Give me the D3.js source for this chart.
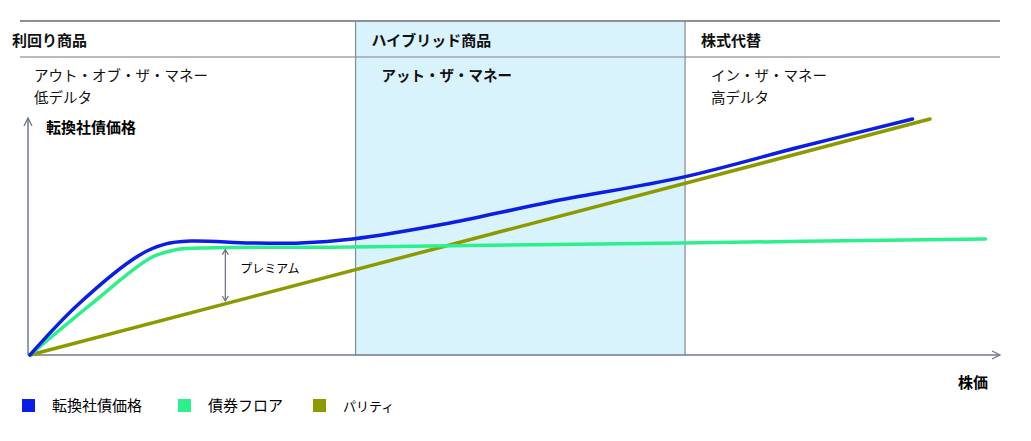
<!DOCTYPE html>
<html lang="ja">
<head>
<meta charset="UTF-8">
<title>転換社債</title>
<script src="https://d3js.org/d3.v7.min.js"></script>
<style>
  body { margin: 0; background: #fff; font-family: "Noto Sans CJK JP", sans-serif; }
  text { font-family: "Noto Sans CJK JP", sans-serif; }
</style>
</head>
<body>
<div id="chart"></div>
<script>
// data (stock price, value) in abstract 0-100 units
const cbPrice = [[0.2,0],[5.1,21.3],[11.5,42.6],[14.1,47.2],[16.7,48.5],[22.9,47.7],[28,47.7],[33.4,49.4],[43.4,56.2],[53.7,65.1],[67.4,75.7],[79.4,88.5],[91.0,100.4]];
const bondFloor = [[0.2,0],[6.4,21.3],[12.6,41.3],[15.1,44.7],[17.7,45.5],[33.4,46],[67.4,47.7],[98.5,49.4]];
const parity = [[0.2,0],[92.8,100.4]];
const zones = [
  {from: 0, to: 33.7, title: "利回り商品", sub: ["アウト・オブ・ザ・マネー", "低デルタ"], bold: false},
  {from: 33.7, to: 67.6, title: "ハイブリッド商品", sub: ["アット・ザ・マネー"], bold: true},
  {from: 67.6, to: 100, title: "株式代替", sub: ["イン・ザ・マネー", "高デルタ"], bold: false}
];
const premium = {x: 20.3, top: 45.7, bottom: 23};
const legend = [
  {name: "転換社債価格", color: "#0a1ee6"},
  {name: "債券フロア", color: "#2cf08c"},
  {name: "パリティ", color: "#8c9a00"}
];

const W = 1031, H = 441;
const svg = d3.select("#chart").append("svg").attr("width", W).attr("height", H);

const x = d3.scaleLinear().domain([0, 100]).range([28, 1000]);
const y = d3.scaleLinear().domain([0, 100]).range([355, 120]);
const topY = 21, sepY = 57;

// shaded hybrid zone
svg.append("rect")
  .attr("x", x(zones[1].from)).attr("y", topY)
  .attr("width", x(zones[1].to) - x(zones[1].from)).attr("height", y(0) - topY)
  .attr("fill", "#d9f3fc");

// horizontal rules
svg.append("line").attr("x1", 20).attr("x2", 1000).attr("y1", topY).attr("y2", topY)
  .attr("stroke", "#8a8f9c").attr("stroke-width", 2);
svg.append("line").attr("x1", 20).attr("x2", 1000).attr("y1", sepY).attr("y2", sepY)
  .attr("stroke", "#a0a4ae").attr("stroke-width", 1.5);

// zone dividers
[zones[1].from, zones[1].to].forEach(v => {
  svg.append("line").attr("x1", x(v)).attr("x2", x(v)).attr("y1", topY).attr("y2", y(0))
    .attr("stroke", "#8a9099").attr("stroke-width", 1.3);
});

zones.forEach(z => {
  const tx = x(z.from) + 16;
  svg.append("text").attr("x", z.from === 0 ? 12 : tx).attr("y", 46)
    .attr("font-size", 15).attr("font-weight", "bold").attr("fill", "#111").text(z.title);
  z.sub.forEach((s, i) => {
    svg.append("text").attr("x", z.from === 0 ? 34 : tx + 10).attr("y", 81 + i * 22)
      .attr("font-size", 14.5).attr("font-weight", z.bold ? "bold" : "normal")
      .attr("fill", "#111").text(s);
  });
});

// axes
const axisColor = "#707888";
svg.append("line").attr("x1", x(0)).attr("x2", x(0)).attr("y1", y(0)).attr("y2", 118)
  .attr("stroke", axisColor).attr("stroke-width", 1.5);
svg.append("path").attr("d", `M${x(0)-4},126 L${x(0)},118 L${x(0)+4},126`)
  .attr("fill", "none").attr("stroke", axisColor).attr("stroke-width", 1.3);
svg.append("line").attr("x1", x(0)).attr("x2", 1000).attr("y1", y(0)).attr("y2", y(0))
  .attr("stroke", axisColor).attr("stroke-width", 1.5);
svg.append("path").attr("d", `M992,${y(0)-4} L1000,${y(0)} L992,${y(0)+4}`)
  .attr("fill", "none").attr("stroke", axisColor).attr("stroke-width", 1.3);
svg.append("text").attr("x", 46).attr("y", 133).attr("font-size", 15).attr("font-weight", "bold").text("転換社債価格");
svg.append("text").attr("x", 988).attr("y", 388).attr("text-anchor", "end")
  .attr("font-size", 15).attr("font-weight", "bold").text("株価");

// lines
const line = d3.line().x(d => x(d[0])).y(d => y(d[1])).curve(d3.curveCatmullRom.alpha(0.5));
[[parity, legend[2].color], [bondFloor, legend[1].color], [cbPrice, legend[0].color]].forEach(([data, c]) => {
  svg.append("path").datum(data).attr("d", line).attr("fill", "none")
    .attr("stroke", c).attr("stroke-width", 3.5).attr("stroke-linecap", "round");
});

// premium arrow
const px = x(premium.x);
svg.append("line").attr("x1", px).attr("x2", px).attr("y1", y(premium.top) + 2).attr("y2", y(premium.bottom))
  .attr("stroke", "#6a6f80").attr("stroke-width", 1.2);
[[y(premium.top) + 2, 1], [y(premium.bottom), -1]].forEach(([yy, dir]) => {
  svg.append("path").attr("d", `M${px-3},${yy + dir*5} L${px},${yy} L${px+3},${yy + dir*5}`)
    .attr("fill", "none").attr("stroke", "#6a6f80").attr("stroke-width", 1.2);
});
svg.append("text").attr("x", px + 15).attr("y", 273).attr("font-size", 12).text("プレミアム");

// legend
const lx = [22, 178, 313];
legend.forEach((l, i) => {
  svg.append("rect").attr("x", lx[i]).attr("y", 399).attr("width", 13).attr("height", 13).attr("fill", l.color);
  svg.append("text").attr("x", lx[i] + 30).attr("y", 411).attr("font-size", i === 2 ? 13 : 15).text(l.name);
});
</script>
</body>
</html>
